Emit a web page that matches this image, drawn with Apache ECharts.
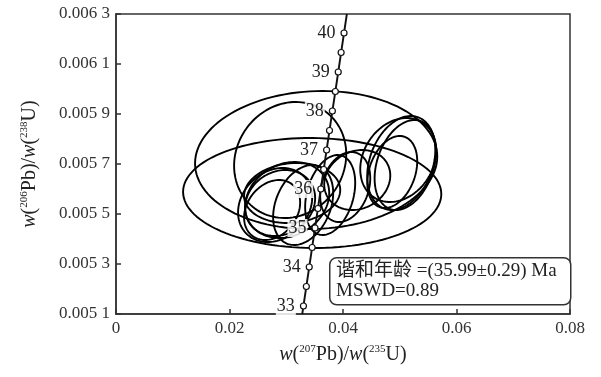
<!DOCTYPE html>
<html>
<head>
<meta charset="utf-8">
<script src="https://cdn.jsdelivr.net/npm/echarts@6/dist/echarts.min.js"></script>
<style>
  html, body { margin: 0; padding: 0; background: #fff; }
  #chart { width: 601px; height: 377px; }
</style>
</head>
<body>
<div id="chart"></div>
<script>
// concordia curve points (Ma)
var ages = [32.79, 33, 33.5, 34, 34.5, 35, 35.5, 36, 36.5, 37, 37.5, 38, 38.5, 39, 39.5, 40, 40.49];
var curveX = [0.03282, 0.03303, 0.03354, 0.03405, 0.03456, 0.03507, 0.03558, 0.03609, 0.03660,
              0.03711, 0.03762, 0.03813, 0.03865, 0.03916, 0.03967, 0.04018, 0.04068];
var curveY = [0.00510, 0.005132, 0.005210, 0.005288, 0.005366, 0.005444, 0.005522, 0.005600, 0.005678,
              0.005756, 0.005834, 0.005912, 0.005990, 0.006068, 0.006146, 0.006224, 0.00630];

// error ellipses: centre, half-axes (errors) and error correlation
var ellX  = [0.03527, 0.03457, 0.03069, 0.05027, 0.05097, 0.04974, 0.04868, 0.04251,
             0.04039, 0.03774, 0.02804, 0.02892, 0.02751, 0.03016, 0.03104, 0.03298];
var ellY  = [0.005716, 0.005584, 0.005716, 0.005704, 0.005696, 0.005716, 0.005668, 0.005636,
             0.005608, 0.005576, 0.005536, 0.005544, 0.005516, 0.005556, 0.005584, 0.005536];
var ellSx = [0.02134, 0.02275, 0.00988, 0.00600, 0.00540, 0.00670, 0.00440, 0.00582,
             0.00441, 0.00441, 0.00653, 0.00617, 0.00494, 0.00741, 0.00847, 0.00529];
var ellSy = [0.000276, 0.000220, 0.000232, 0.000188, 0.000180, 0.000168, 0.000144, 0.000120,
             0.000140, 0.000160, 0.000148, 0.000132, 0.000120, 0.000152, 0.000120, 0.000160];
var ellRho = [0.05, -0.02, 0.10, 0.28, 0.30, 0.22, 0.30, 0.15,
              0.25, 0.30, 0.20, 0.15, 0.25, 0.18, 0.10, 0.30];

var xTicks = [0, 0.02, 0.04, 0.06, 0.08];
var yMin = 0.0051, yMax = 0.0063, yStep = 0.0002;
var ageText = '谐和年龄 =(35.99±0.29) Ma';
var mswdText = 'MSWD=0.89';

var chart = echarts.init(document.getElementById('chart'));

var curveData = ages.map(function (a, i) { return [curveX[i], curveY[i], a]; });
var ellData = ellX.map(function (x, i) { return [x, ellY[i], ellSx[i], ellSy[i], ellRho[i]]; });

var serif = '"Liberation Serif", "DejaVu Serif", serif';
var nameRich = {
  i: { fontStyle: 'italic', fontFamily: serif, fontSize: 20, color: '#222' },
  n: { fontFamily: serif, fontSize: 20, color: '#222' },
  s: { fontFamily: serif, fontSize: 11, color: '#222', padding: [0, 0, 10, 0] }
};

// error ellipse with correlation rho, traced in data space then mapped by the axes
function renderEllipse(params, api) {
  var cx = api.value(0), cy = api.value(1);
  var sx = api.value(2), sy = api.value(3), rho = api.value(4);
  var q = Math.sqrt(1 - rho * rho);
  var pts = [];
  for (var k = 0; k < 120; k++) {
    var t = k / 120 * Math.PI * 2;
    pts.push(api.coord([cx + sx * Math.cos(t),
                        cy + sy * (rho * Math.cos(t) + q * Math.sin(t))]));
  }
  return {
    type: 'polygon',
    shape: { points: pts },
    style: { fill: 'none', stroke: '#000', lineWidth: 1.9 }
  };
}

chart.setOption({
  animation: false,
  backgroundColor: '#fff',
  grid: {
    left: 116, right: 31, top: 14, bottom: 63,
    show: true, borderColor: '#333', borderWidth: 1.5
  },
  xAxis: {
    type: 'value',
    min: xTicks[0], max: xTicks[xTicks.length - 1], interval: 0.02,
    name: '{i|w}{n|(}{s|207}{n|Pb)/}{i|w}{n|(}{s|235}{n|U)}',
    nameLocation: 'middle', nameGap: 30,
    nameTextStyle: { rich: nameRich },
    axisLine: { lineStyle: { color: '#333', width: 1.5 } },
    axisTick: { inside: true, length: 5, lineStyle: { color: '#333', width: 1.5 } },
    splitLine: { show: false },
    axisLabel: {
      color: '#333', fontFamily: serif, fontSize: 17, margin: 6,
      formatter: function (v) { return v === 0 ? '0' : v.toFixed(2); }
    }
  },
  yAxis: {
    type: 'value',
    min: yMin, max: yMax, interval: yStep,
    name: '{i|w}{n|(}{s|206}{n|Pb)/}{i|w}{n|(}{s|238}{n|U)}',
    nameLocation: 'middle', nameGap: 76, nameRotate: 90,
    nameTextStyle: { rich: nameRich },
    axisLine: { lineStyle: { color: '#333', width: 1.5 } },
    axisTick: { inside: true, length: 5, lineStyle: { color: '#333', width: 1.5 } },
    splitLine: { show: false },
    axisLabel: {
      color: '#333', fontFamily: serif, fontSize: 17, margin: 6,
      formatter: function (v) {
        var s = (Math.round(v * 10000) / 10000).toFixed(4);
        return s.slice(0, 5) + ' ' + s.slice(5);
      }
    }
  },
  graphic: [{
    type: 'rect',
    left: 329, top: 257,
    shape: { width: 241, height: 47, r: 7 },
    style: { fill: '#fff', stroke: '#333', lineWidth: 1.5 },
    z: 100
  }, {
    type: 'text',
    left: 336, top: 262,
    style: {
      text: ageText,
      font: '19px "Liberation Serif", "Noto Sans CJK SC", serif',
      fill: '#222'
    },
    z: 101
  }, {
    type: 'text',
    left: 336, top: 282,
    style: {
      text: mswdText,
      font: '19px "Liberation Serif", serif',
      fill: '#222'
    },
    z: 101
  }],
  series: [{
    type: 'custom',
    data: ellData,
    encode: { x: 0, y: 1 },
    renderItem: renderEllipse,
    clip: true,
    silent: true,
    z: 2
  }, {
    type: 'line',
    data: curveData,
    lineStyle: { color: '#111', width: 1.9 },
    symbol: function (v) {
      var a = v[2];
      return (a * 2 === Math.round(a * 2)) ? 'circle' : 'none';
    },
    symbolSize: 6,
    itemStyle: { color: '#fff', borderColor: '#111', borderWidth: 1.2 },
    label: {
      show: true, position: 'left', distance: 4,
      fontFamily: serif, fontSize: 18, color: '#222',
      backgroundColor: 'rgba(255,255,255,0.85)', padding: [0, 1],
      formatter: function (p) {
        var a = p.value[2];
        return a === Math.round(a) ? String(a) : '';
      }
    },
    z: 5
  }]
});
</script>
</body>
</html>
